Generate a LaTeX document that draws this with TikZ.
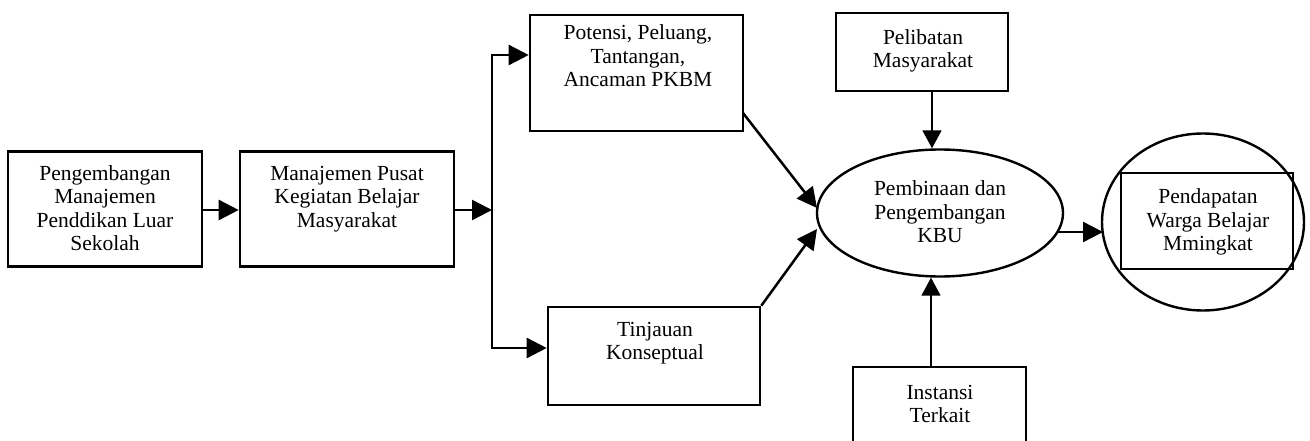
\documentclass[tikz,border=0pt]{standalone}
\usepackage{fontspec}
\setmainfont{Liberation Serif}
\usetikzlibrary{shapes.geometric,arrows.meta}
\tikzset{
  boxnode/.style={draw, line width=2.6pt, rectangle, inner sep=0pt},
  txt/.style={align=center, inner sep=0pt, font={\fontsize{21.5}{23.5}\selectfont}},
  conn/.style={line width=2.5pt, -{Triangle[length=20pt,width=20pt]}},
  thinconn/.style={line width=1.8pt, -{Triangle[length=18pt,width=19pt]}},
  plain/.style={line width=2.5pt}
}
\begin{document}
\begin{tikzpicture}[x=1pt,y=-1pt]
\useasboundingbox (0,0) rectangle (1310,441);
\clip (0,0) rectangle (1310,441);
\fill[white] (0,0) rectangle (1310,441);
% boxes
\node[boxnode, minimum width=194pt, minimum height=115pt] (b1) at (105,209) {};
\node[txt] (t1) at (105,208) {Pengembangan\\Manajemen\\Penddikan Luar\\Sekolah};
\node[boxnode, minimum width=214pt, minimum height=115pt] (b2) at (347,209) {};
\node[txt] (t2) at (347,199) {Manajemen Pusat\\Kegiatan Belajar\\Masyarakat};
\node[boxnode, minimum width=213pt, minimum height=116pt] (b3) at (636.5,73) {};
\node[txt] (t3) at (638,56) {Potensi, Peluang,\\Tantangan,\\Ancaman PKBM};
\node[boxnode, minimum width=212pt, minimum height=98pt] (b4) at (654,356) {};
\node[txt] (t4) at (655,343) {Tinjauan\\Konseptual};
\node[boxnode, minimum width=172pt, minimum height=78pt] (pel) at (922,52) {};
\node[txt] (tp) at (923,51) {Pelibatan\\Masyarakat};
\node[boxnode, minimum width=173pt, minimum height=90pt] (ins) at (939.5,412) {};
\node[txt] (ti) at (940,404) {Instansi\\Terkait};
% ellipse
\node[draw, ellipse, line width=2.4pt, minimum width=246pt, minimum height=127pt, inner sep=0pt] (e) at (940,213) {};
\node[txt] (te) at (940,212) {Pembinaan dan\\Pengembangan\\KBU};
% outcome circle
\node[draw, ellipse, line width=2.4pt, minimum width=202pt, minimum height=177pt, inner sep=0pt] (c) at (1203,222) {};
\node[boxnode, minimum width=172pt, minimum height=96pt] (r) at (1207,221) {};
\node[txt] (tr) at (1208,222) {Pendapatan\\Warga Belajar\\Mmingkat};
% connectors
\coordinate (jm) at (492,210);
\coordinate (jt) at (492,55);
\coordinate (jb) at (492,348);
\draw[conn] (b1.east |- jm) -- (b2.west |- jm);
\draw[conn] (b2.east |- jm) -- (jm);
\draw[plain] (jt) -- (jb);
\draw[conn] ([xshift=-1.2pt]jt) -- (b3.west |- jt);
\draw[conn] ([xshift=-1.2pt]jb) -- (b4.west |- jb);
\coordinate (s3) at (743,113);
\coordinate (e3) at (817,208);
\coordinate (e4) at (817,229);
\draw[conn] (s3) -- (e3);
\draw[conn] (b4.north east) -- (e4);
\coordinate (pa) at (932,91);
\draw[thinconn] (pa) -- (pa |- e.north);
\coordinate (ia) at (931,367);
\draw[thinconn] (ia) -- (ia |- e.south);
\coordinate (eo) at (1057,232);
\coordinate (ci) at (1103,232);
\draw[conn] (eo) -- (ci);
\end{tikzpicture}
\end{document}
